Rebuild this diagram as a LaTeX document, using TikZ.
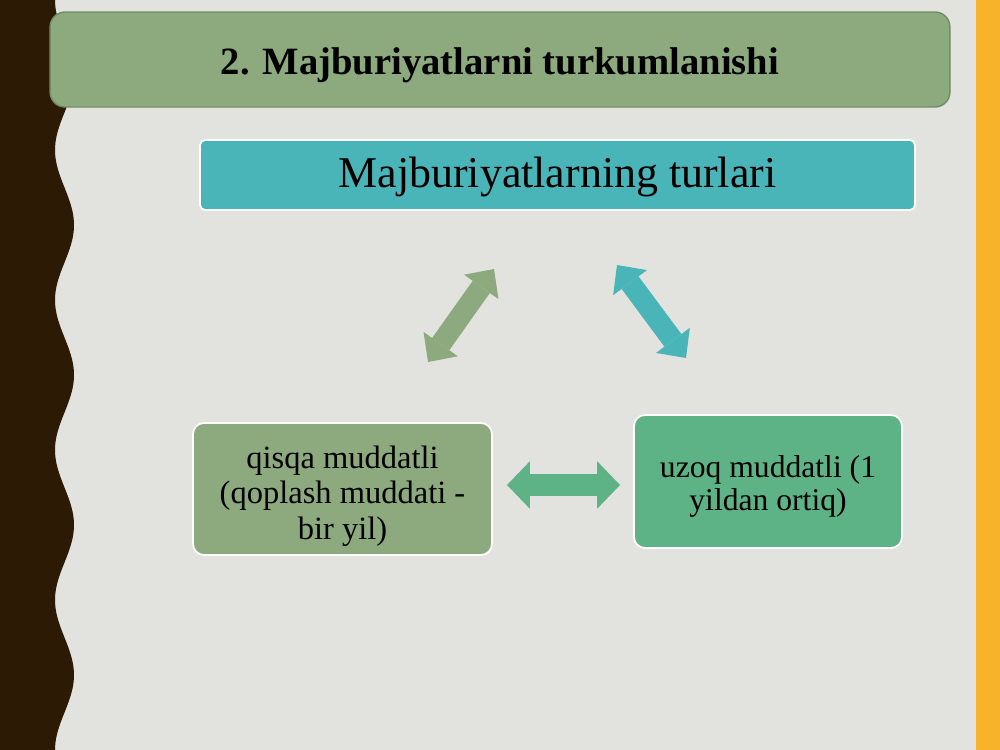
\documentclass[tikz,border=0pt]{standalone}
\usepackage{fontspec}
\setmainfont{Liberation Serif}
\usetikzlibrary{arrows.meta}
\definecolor{slide}{HTML}{E2E2DE}
\definecolor{strip}{HTML}{2C1A05}
\definecolor{edge}{HTML}{F7B329}
\definecolor{sage}{HTML}{8DAA7E}
\definecolor{sagedark}{HTML}{718C64}
\definecolor{teal1}{HTML}{4AB5B8}
\definecolor{green1}{HTML}{5EB386}
\newcommand{\lowtext}[2]{\raisebox{-#1}[\height][\depth]{\begin{tabular}{@{}c@{}}#2\end{tabular}}}
\begin{document}
\begin{tikzpicture}[x=0.02cm, y=-0.02cm]

\tikzstyle{titlebox}=[rectangle, rounded corners=0.3cm, draw=sagedark, line width=0.8pt, fill=sage, minimum width=18cm, minimum height=1.9cm, font=\fontsize{22}{26}\selectfont\bfseries]
\tikzstyle{headbox}=[rectangle, rounded corners=0.1cm, draw=white, line width=1pt, fill=teal1, minimum width=14.3cm, minimum height=1.4cm, font=\fontsize{25}{28}\selectfont]
\tikzstyle{box1}=[rectangle, rounded corners=0.22cm, draw=white, line width=1pt, inner sep=0pt]
\tikzstyle{dblarrow}=[line width=12pt, {Triangle[length=12.5pt, width=24pt, line width=0pt]}-{Triangle[length=12.5pt, width=24pt, line width=0pt]}]
\tikzstyle{midarrow}=[line width=13pt, {Triangle[length=13pt, width=27pt, line width=0pt]}-{Triangle[length=13pt, width=27pt, line width=0pt]}]

\fill[slide] (0,0) rectangle (1000,750);
\useasboundingbox (0,0) rectangle (1000,750);
\fill[strip] (0,0) -- plot[domain=0:750, samples=200] ({64.5-9.5*cos(2.4*(\x-150))}, \x) -- (0,750) -- cycle;
\fill[edge] (976,0) rectangle (1000,750);

\node (T) [titlebox] at (500,59.5) {\lowtext{3.6pt}{2. Majburiyatlarni turkumlanishi}};
\node (M) [headbox] at (557.5,175) {\lowtext{1.7pt}{Majburiyatlarning turlari}};
\node (Q) [box1, fill=sage, minimum width=5.98cm, minimum height=2.64cm, font=\fontsize{18.5}{20}\selectfont] at (342.5,489) {\lowtext{4.5pt}{qisqa muddatli\\(qoplash muddati -\\bir yil)}};
\node (U) [box1, fill=green1, minimum width=5.36cm, minimum height=2.66cm, font=\fontsize{18}{19}\selectfont] at (768,481.5) {\lowtext{3.4pt}{uzoq muddatli (1\\yildan ortiq)}};

\coordinate (q1) at (428,362);
\coordinate (q2) at (494,269);
\coordinate (u1) at (617,265);
\coordinate (u2) at (686,358);
\coordinate (m1) at (507,485);
\coordinate (m2) at (620,485);

\draw [dblarrow, sage] (q1) -- (q2);
\draw [dblarrow, teal1] (u1) -- (u2);
\draw [midarrow, green1] (m1) -- (m2);

\end{tikzpicture}
\end{document}
